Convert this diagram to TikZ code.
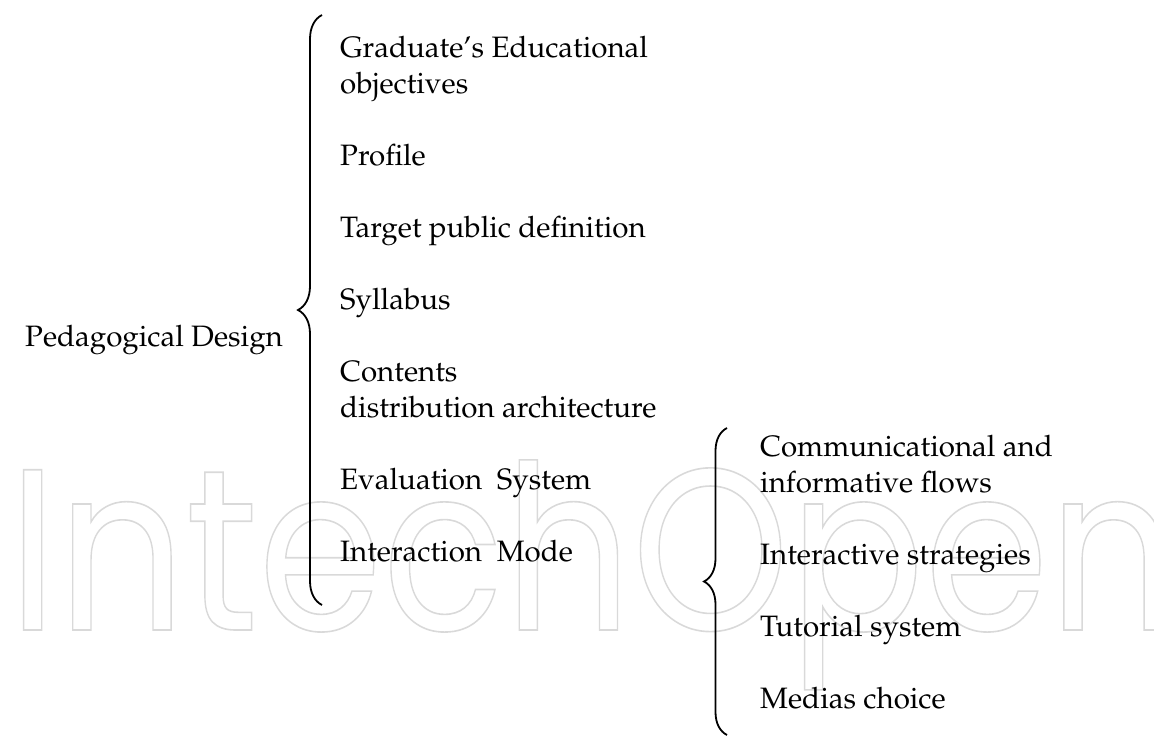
\documentclass[tikz,border=0pt]{standalone}
\usepackage[T1,TU]{fontenc}
\usepackage{fontspec}
\usetikzlibrary{decorations.pathreplacing}
\newfontfamily\markfont{Poppins}
\newcommand\itemfont{\fontencoding{T1}\fontfamily{ppl}\fontsize{29.5}{36}\selectfont}
\newcommand\strokeon{\special{pdf:literal direct 1 Tr 1.6 w}}
\newcommand\strokeoff{\special{pdf:literal direct 0 Tr}}
\tikzset{
  item/.style={anchor=base west, align=left, inner sep=0pt, font=\itemfont},
  curly/.style={decorate, decoration={brace, amplitude=24pt}, line width=1.8pt},
}
\begin{document}
\begin{tikzpicture}[x=1pt,y=-1pt]
\useasboundingbox (0,0) rectangle (1154,737);

\node[anchor=base west, inner sep=0pt, xscale=0.87, text=black!15,
  font=\markfont\fontsize{230}{230}\selectfont] (mark) at (8,630) {\strokeon IntechOpen\strokeoff};

\node[item] (design) at (25,346) {Pedagogical Design};

\coordinate (b1top) at (322,15);
\coordinate (b1bot) at (322,605);
\draw[curly] (b1bot) -- (b1top);

% two-line items sit on the baseline of their last line
\node[item] (goals) at (340,93) {Graduate's Educational\\objectives};
\node[item] (profile) at (340,165) {Profile};
\node[item] (target) at (340,237) {Target public definition};
\node[item] (syllabus) at (340,309) {Syllabus};
\node[item] (contents) at (340,417) {Contents\\distribution architecture};
\node[item] (evaluation) at (340,489) {Evaluation~ System};
\node[item] (interaction) at (340,561) {Interaction~ Mode};

\coordinate (b2top) at (727,428);
\coordinate (b2bot) at (727,735);
\draw[curly, decoration={amplitude=23pt}] (b2bot) -- (b2top);

\node[item] (flows) at (760,492) {Communicational and\\informative flows};
\node[item] (strategies) at (760,564) {Interactive strategies};
\node[item] (tutorial) at (760,636) {Tutorial system};
\node[item] (medias) at (760,708) {Medias choice};
\end{tikzpicture}
\end{document}
